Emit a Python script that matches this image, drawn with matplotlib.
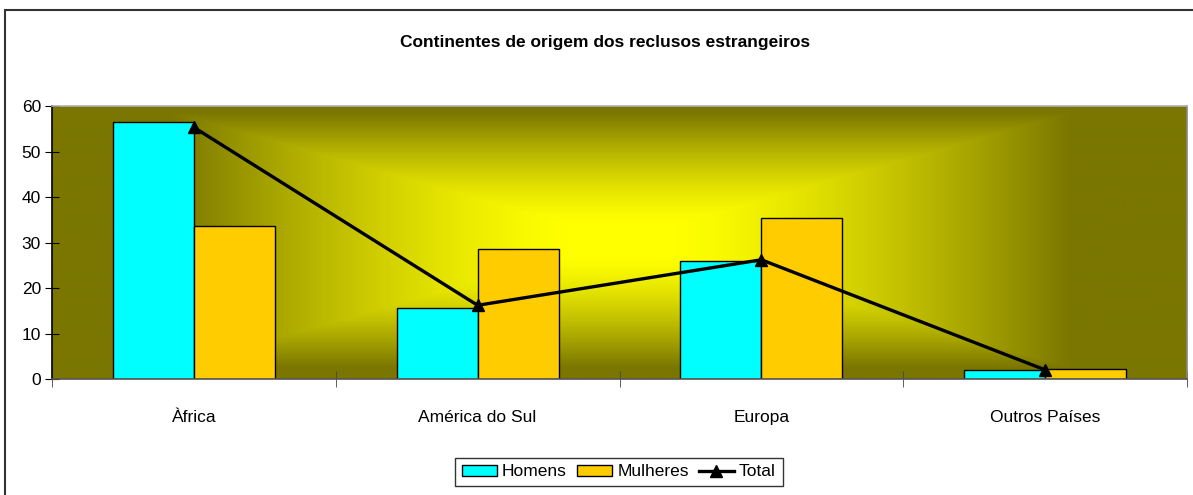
import numpy as np
import matplotlib
matplotlib.use("Agg")
from matplotlib import pyplot as plt
from matplotlib.patches import Rectangle

plt.rcParams['font.family'] = ['Liberation Sans Narrow', 'Liberation Sans', 'DejaVu Sans']

categories = ["Àfrica", "América do Sul", "Europa", "Outros Países"]
homens = [56.4, 15.5, 25.9, 1.9]
mulheres = [33.7, 28.6, 35.3, 2.2]
total = [55.3, 16.2, 26.2, 2.0]

W, H = 1193, 495
fig = plt.figure(figsize=(W / 100, H / 100), dpi=100)
fig.patch.set_facecolor("white")

# outer chart border (cropped at right and bottom)
fig.patches.append(Rectangle((5 / W, -0.1), 1.2, 1 - 10 / H + 0.1, transform=fig.transFigure,
                             fill=False, edgecolor="#333333", linewidth=1.5))

ax = fig.add_axes([52 / W, 1 - 379 / H, (1187 - 52) / W, (379 - 106) / H])

# background: rectangular path gradient, yellow centre -> olive edges
# work in pixel units of the plot area (1135 x 273), centre near (568, 136)
px = np.linspace(0, 1135, 700)
py = np.linspace(0, 273, 300)
X, Y = np.meshgrid(px, py)
t = np.maximum(np.abs(X - 570) / 450, np.abs(Y - 134) / 128)
s = np.clip((t - 0.12) / 0.88, 0, 1) ** 1.4
yellow = np.array([1.0, 1.0, 0.0])
olive = np.array([122, 118, 0]) / 255
img = yellow[None, None, :] * (1 - s[..., None]) + olive[None, None, :] * s[..., None]
ax.imshow(img, extent=(-0.5, 3.5, 0, 60), aspect="auto", zorder=0, origin="upper")

x = np.arange(len(categories))
bw = 0.2857
b1 = ax.bar(x - bw / 2, homens, bw, color="#00FFFF", edgecolor="black", linewidth=1, label="Homens", zorder=2)
b2 = ax.bar(x + bw / 2, mulheres, bw, color="#FFCC00", edgecolor="black", linewidth=1, label="Mulheres", zorder=2)
l1, = ax.plot(x, total, color="black", linewidth=2.4, marker="^", markersize=8, label="Total", zorder=3)

ax.set_xlim(-0.5, 3.5)
ax.set_ylim(0, 60)
ax.set_yticks(range(0, 61, 10))
ax.set_xticks(x)
ax.set_xticklabels(categories)
ax.set_xticks(np.arange(-0.5, 4, 1), minor=True)
ax.tick_params(axis="x", which="major", length=0, pad=22, labelsize=12.5)
ax.tick_params(axis="x", which="minor", length=12, direction="inout", color="#444444")
ax.tick_params(axis="y", length=10, direction="inout", labelsize=12.5, pad=3)

ax.spines["left"].set_color("black")
ax.spines["bottom"].set_color("#555555")
ax.spines["top"].set_color("#b0b0b0")
ax.spines["right"].set_color("#888888")
for s_ in ax.spines.values():
    s_.set_linewidth(1.2)

fig.text(605 / W, 1 - 42 / H, "Continentes de origem dos reclusos estrangeiros",
         ha="center", va="center", fontsize=12.5, fontweight="bold")

leg = fig.legend([b1, b2, l1], ["Homens", "Mulheres", "Total"], loc="center",
                 bbox_to_anchor=(619 / W, 1 - 472 / H), ncol=3, frameon=True,
                 fancybox=False, edgecolor="black", fontsize=12.5, handlelength=2.0,
                 handleheight=0.6, handletextpad=0.3, columnspacing=0.6, borderpad=0.4)
leg.get_frame().set_linewidth(1.0)

fig.savefig("out.png", dpi=100)
